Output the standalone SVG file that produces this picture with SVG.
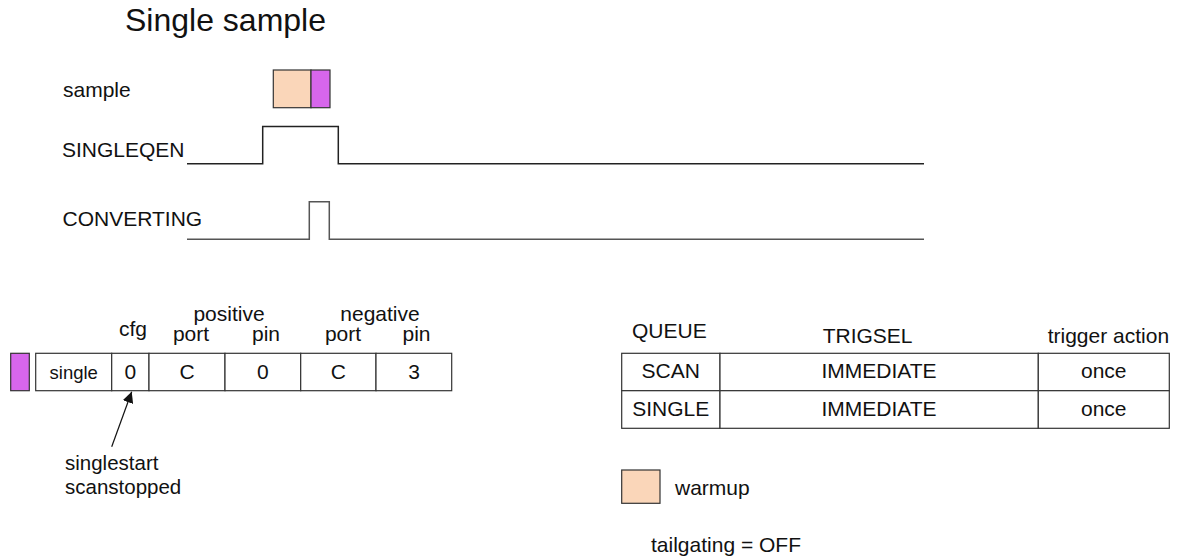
<svg xmlns="http://www.w3.org/2000/svg" width="1178" height="559" viewBox="0 0 1178 559">
<style>
text{font-family:"Liberation Sans",Arial,sans-serif;fill:#111;font-size:21px}
.c{text-anchor:middle}
.title{font-size:32px}
.small{font-size:18.5px}
.note{font-size:20.5px}
.cell{fill:#fff;stroke:#333;stroke-width:1.2}
.warm{fill:#fad6b9;stroke:#333;stroke-width:1.2}
.conv{fill:#d766ec;stroke:#333;stroke-width:1.2}
.sig{fill:none;stroke:#222;stroke-width:1.5}
.sig2{fill:none;stroke:#555;stroke-width:1.5}
.arr{stroke:#111;stroke-width:1.2;fill:none}
</style>
<defs>
<marker id="ah" viewBox="0 0 10 10" refX="10" refY="5" markerWidth="11" markerHeight="11" markerUnits="userSpaceOnUse" orient="auto">
<path d="M0,0 L10,5 L0,10 z" fill="#111"/>
</marker>
</defs>
<rect width="1178" height="559" fill="#fff"/>
<text class="title" x="125" y="31">Single sample</text>

<g id="sample">
<text x="63" y="97">sample</text>
<rect class="warm" x="273.3" y="70" width="37.7" height="37.7"/>
<rect class="conv" x="311" y="70" width="19" height="37.7"/>
</g>

<g id="singleqen">
<text x="62" y="157">SINGLEQEN</text>
<polyline class="sig" points="187,163.7 262.7,163.7 262.7,126.5 338.3,126.5 338.3,163.7 924,163.7"/>
</g>

<g id="converting">
<text x="62.5" y="225.7">CONVERTING</text>
<polyline class="sig2" points="187,239.3 309.3,239.3 309.3,201.7 329.3,201.7 329.3,239.3 924,239.3"/>
</g>

<g id="config-table">
<rect class="conv" x="10.7" y="353.3" width="18.6" height="37.4"/>
<rect class="cell" x="35.7" y="353.3" width="76" height="37.4"/>
<rect class="cell" x="111.7" y="353.3" width="37.3" height="37.4"/>
<rect class="cell" x="149" y="353.3" width="76" height="37.4"/>
<rect class="cell" x="225" y="353.3" width="75.7" height="37.4"/>
<rect class="cell" x="300.7" y="353.3" width="75.3" height="37.4"/>
<rect class="cell" x="376" y="353.3" width="75.7" height="37.4"/>
<text class="c small" x="73.7" y="378.5">single</text>
<text class="c" x="130.3" y="379.4">0</text>
<text class="c" x="187" y="379.4">C</text>
<text class="c" x="262.8" y="379.4">0</text>
<text class="c" x="338.3" y="379.4">C</text>
<text class="c" x="414" y="379.4">3</text>
<text class="c" x="133" y="336">cfg</text>
<text class="c" x="229" y="320.7">positive</text>
<text class="c" x="191" y="340.7">port</text>
<text class="c" x="266" y="340.7">pin</text>
<text class="c" x="380" y="320.7">negative</text>
<text class="c" x="343" y="340.7">port</text>
<text class="c" x="416.5" y="340.7">pin</text>
</g>

<g id="note">
<text class="note" x="65" y="470">singlestart</text>
<text class="note" x="65" y="493.5">scanstopped</text>
</g>

<g id="connectors">
<line class="arr" x1="111.7" y1="446.7" x2="131.7" y2="391.7" marker-end="url(#ah)"/>
</g>

<g id="queue-table">
<text class="c" x="669.3" y="338.3">QUEUE</text>
<text x="822.7" y="343.3">TRIGSEL</text>
<text x="1047.7" y="343.3">trigger action</text>
<rect class="cell" x="621.7" y="353.3" width="98.3" height="37.4"/>
<rect class="cell" x="720" y="353.3" width="318.3" height="37.4"/>
<rect class="cell" x="1038.3" y="353.3" width="131" height="37.4"/>
<rect class="cell" x="621.7" y="390.7" width="98.3" height="37.6"/>
<rect class="cell" x="720" y="390.7" width="318.3" height="37.6"/>
<rect class="cell" x="1038.3" y="390.7" width="131" height="37.6"/>
<text class="c" x="670.8" y="378.3">SCAN</text>
<text class="c" x="879" y="378.3">IMMEDIATE</text>
<text class="c" x="1103.8" y="378.3">once</text>
<text class="c" x="670.8" y="416">SINGLE</text>
<text class="c" x="879" y="416">IMMEDIATE</text>
<text class="c" x="1103.8" y="416">once</text>
</g>

<g id="legend">
<rect class="warm" x="621.7" y="470" width="38.3" height="33.3"/>
<text x="675" y="495">warmup</text>
<text x="651" y="551.7">tailgating = OFF</text>
</g>
</svg>
